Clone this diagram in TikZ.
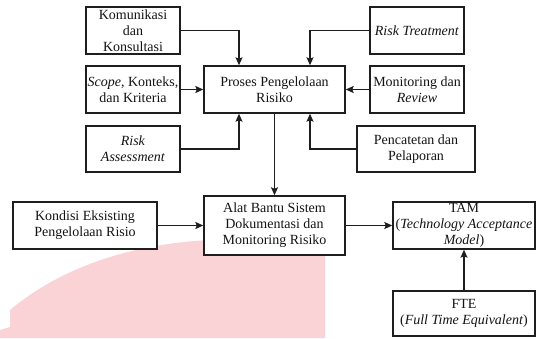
\documentclass[tikz,border=0pt]{standalone}
\usepackage{fontspec}
\setmainfont{Liberation Serif}
\usetikzlibrary{arrows.meta}
\definecolor{wm}{HTML}{FAD3D7}
\definecolor{ln}{HTML}{1E1E1E}
\begin{document}
\begin{tikzpicture}[x=1pt,y=-1pt,
  box/.style={draw=ln,line width=1.4pt,fill=white,align=center,inner sep=1pt,
    font=\fontsize{14}{16}\selectfont,text=black!92},
  arr/.style={draw=ln,line width=1.4pt,-{Stealth[length=8pt,width=7pt,inset=1.5pt]}}]
\useasboundingbox (0,0) rectangle (536,338);
% watermark
\fill[wm] (0,338) -- (0,330) -- (10,327) -- (10,310)
  .. controls (60,268) and (130,244) .. (210,240) -- (325,240) -- (325,338) -- cycle;
% nodes
\node[box,minimum width=94pt,minimum height=47pt] (kom) at (133,30.5) {Komunikasi\\dan\\Konsultasi};
\node[box,minimum width=94pt,minimum height=47pt] (scope) at (133,89.5) {\textit{Scope}, Konteks,\\dan Kriteria};
\node[box,minimum width=94pt,minimum height=46pt] (ra) at (133,149) {\textit{Risk}\\\textit{Assessment}};
\node[box,minimum width=141pt,minimum height=47pt] (proses) at (274.5,89.5) {Proses Pengelolaan\\Risiko};
\node[box,minimum width=94pt,minimum height=47pt] (rt) at (417,30.5) {\textit{Risk Treatment}};
\node[box,minimum width=94pt,minimum height=47pt] (mon) at (417,89.5) {Monitoring dan\\\textit{Review}};
\node[box,minimum width=118pt,minimum height=46pt] (pen) at (416,149) {Pencatetan dan\\Pelaporan};
\node[box,minimum width=144pt,minimum height=47pt] (kond) at (85,225.5) {Kondisi Eksisting\\Pengelolaan Risio};
\node[box,minimum width=141pt,minimum height=59pt] (alat) at (274.5,225.5) {Alat Bantu Sistem\\Dokumentasi dan\\Monitoring Risiko};
\node[box,minimum width=142pt,minimum height=47pt,inner sep=0pt] (tam) at (464,225.5) {TAM\\(\textit{Technology Acceptance}\\\textit{Model})};
\node[box,minimum width=142pt,minimum height=45pt] (fte) at (464,313.5) {FTE\\(\textit{Full Time Equivalent})};
% connectors
\draw[arr] (kom.east) -| ([xshift=-35.5pt]proses.north);
\draw[arr] (rt.west) -| ([xshift=35.5pt]proses.north);
\draw[arr] (scope.east) -- (proses.west);
\draw[arr] (mon.west) -- (proses.east);
\draw[arr] (ra.east) -| ([xshift=-35.5pt]proses.south);
\draw[arr] (pen.west) -| ([xshift=35.5pt]proses.south);
\draw[arr] (proses.south) -- (alat.north);
\draw[arr] (kond.east) -- (alat.west);
\draw[arr] (alat.east) -- (tam.west);
\draw[arr] (fte.north) -- (tam.south);
\end{tikzpicture}
\end{document}
